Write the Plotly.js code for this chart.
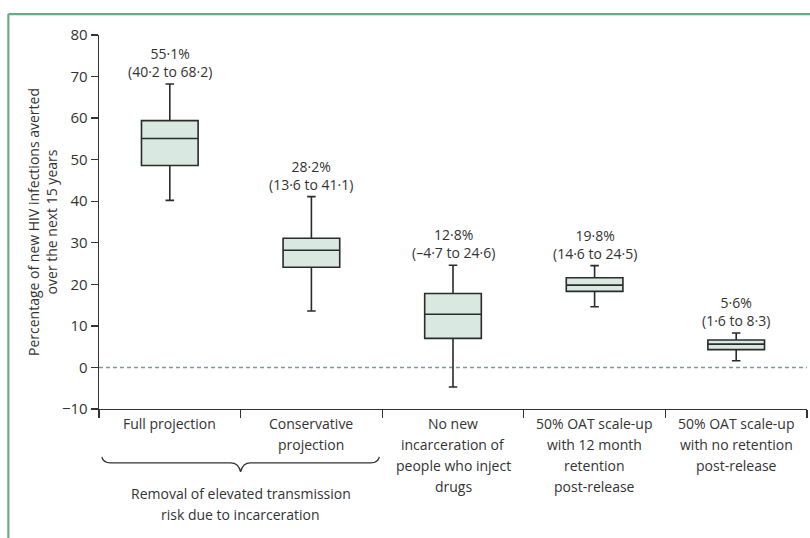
<!DOCTYPE html>
<html>
<head>
<meta charset="utf-8">
<script src="https://cdn.plot.ly/plotly-3.0.1.min.js"></script>
<style>
html,body{margin:0;padding:0;background:#fff;}
#chart{width:810px;height:538px;}
</style>
</head>
<body>
<div id="chart"></div>
<script>
// ---- data ----
const categories = [
  "Full projection",
  "Conservative<br>projection",
  "No new<br>incarceration of<br>people who inject<br>drugs",
  "50% OAT scale-up<br>with 12 month<br>retention<br>post-release",
  "50% OAT scale-up<br>with no retention<br>post-release"
];
const medians = [55.1, 28.2, 12.8, 19.8, 5.6];
const lowerCI = [40.2, 13.6, -4.7, 14.6, 1.6];
const upperCI = [68.2, 41.1, 24.6, 24.5, 8.3];
const q1 = [48.6, 24.1, 7.0, 18.3, 4.3];
const q3 = [59.4, 31.1, 17.8, 21.6, 6.6];
const groupLabel = "Removal of elevated transmission<br>risk due to incarceration";
const yTicks = [-10, 0, 10, 20, 30, 40, 50, 60, 70, 80];

// ---- helpers ----
const fmt = v => (v < 0 ? "\u2013" : "") + Math.abs(v).toFixed(1).replace(".", "\u00B7");
const positions = categories.map((_, i) => i + 0.5);
const textColor = "#333333";
const fontFam = "Open Sans, sans-serif";

const trace = {
  type: "box",
  x: positions,
  q1: q1,
  median: medians,
  q3: q3,
  lowerfence: lowerCI,
  upperfence: upperCI,
  width: 0.4,
  whiskerwidth: 0.15,
  fillcolor: "#d9e8e1",
  line: {color: "#2b2b2b", width: 1.6},
  boxpoints: false,
  hoverinfo: "skip",
  showlegend: false
};

const annotations = [];
positions.forEach((x, i) => {
  annotations.push({
    x: x, y: upperCI[i], xref: "x", yref: "y",
    text: fmt(medians[i]) + "%<br>(" + fmt(lowerCI[i]) + " to " + fmt(upperCI[i]) + ")",
    showarrow: false, yanchor: "bottom", yshift: 1,
    font: {family: fontFam, size: 14, color: textColor}
  });
  categories[i].split("<br>").forEach((line, j) => {
    annotations.push({
      x: x, y: 0, xref: "x", yref: "paper",
      text: line, showarrow: false, yanchor: "middle",
      yshift: -14 - j * 21,
      font: {family: fontFam, size: 14, color: textColor}
    });
  });
});
groupLabel.split("<br>").forEach((line, j) => {
  annotations.push({
    x: 1, y: 0, xref: "x", yref: "paper",
    text: line, showarrow: false, yanchor: "middle",
    yshift: -84 - j * 21,
    font: {family: fontFam, size: 14, color: textColor}
  });
});

const shapes = [
  // zero reference line
  {type: "line", xref: "x", yref: "y", x0: 0, x1: 5, y0: 0, y1: 0,
   line: {color: "#7a97a5", width: 1.4, dash: "4px,3px"}, layer: "below"},
  // curly bracket under first two categories
  {type: "path", xref: "x", yref: "paper",
   path: "M 0.02,-0.128 Q 0.03,-0.144 0.08,-0.144 L 0.93,-0.144 Q 0.985,-0.144 1,-0.168 Q 1.015,-0.144 1.07,-0.144 L 1.92,-0.144 Q 1.97,-0.144 1.98,-0.128",
   line: {color: "#333", width: 1.3}},
  // panel frame (top and left)
  {type: "line", xref: "paper", yref: "paper", x0: -0.128, x1: 1.03, y0: 1.056, y1: 1.056,
   line: {color: "#6aaa8b", width: 2.2}},
  {type: "line", xref: "paper", yref: "paper", x0: -0.128, x1: -0.128, y0: 1.056, y1: -0.36,
   line: {color: "#6aaa8b", width: 2.2}}
];

const layout = {
  width: 810, height: 538,
  margin: {l: 99, r: 3, t: 35, b: 129},
  paper_bgcolor: "#fff", plot_bgcolor: "#fff",
  font: {family: fontFam, color: textColor},
  xaxis: {
    range: [0, 5], tickvals: [0, 1, 2, 3, 4, 5], showticklabels: false,
    ticks: "outside", ticklen: 8, tickcolor: "#333", tickwidth: 1.3,
    showline: true, linecolor: "#333", linewidth: 1.3,
    showgrid: false, zeroline: false, fixedrange: true
  },
  yaxis: {
    range: [-10, 80], tickvals: yTicks,
    ticks: "outside", ticklen: 7, tickcolor: "#333", tickwidth: 1.3,
    showline: true, linecolor: "#333", linewidth: 1.3,
    showgrid: false, zeroline: false,
    tickfont: {family: fontFam, size: 15, color: textColor},
    title: {text: "Percentage of new HIV infections averted<br>over the next 15 years",
            font: {family: fontFam, size: 14, color: textColor}, standoff: 1}
  },
  annotations: annotations,
  shapes: shapes
};

Plotly.newPlot("chart", [trace], layout, {displayModeBar: false, staticPlot: true});
</script>
</body>
</html>
